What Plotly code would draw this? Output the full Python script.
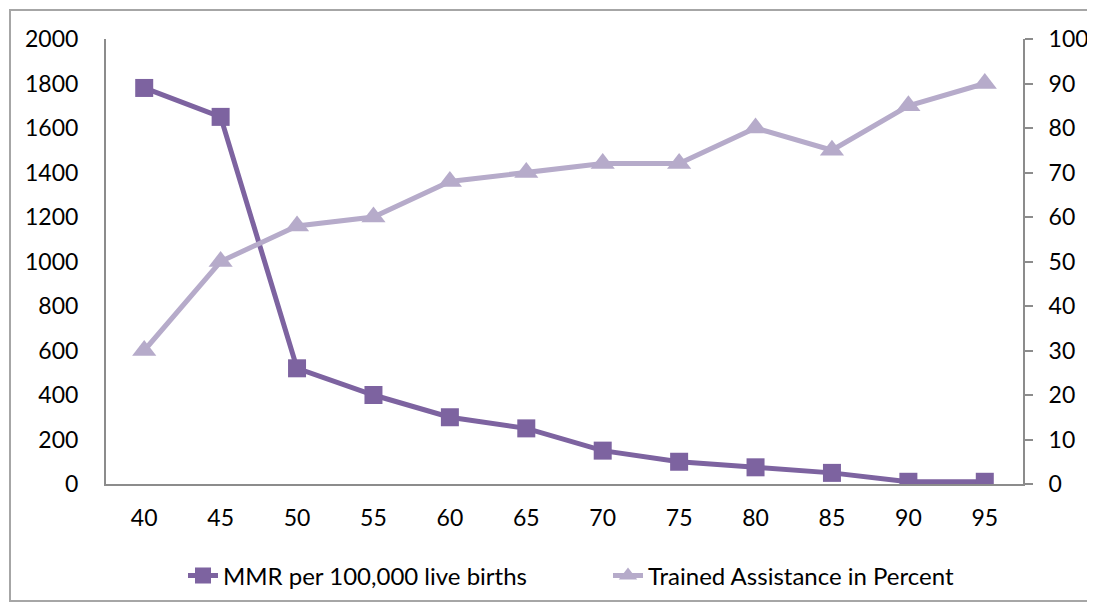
import plotly.graph_objects as go

years = ["40", "45", "50", "55", "60", "65", "70", "75", "80", "85", "90", "95"]
mmr = [1780, 1650, 520, 400, 300, 250, 150, 100, 75, 50, 10, 10]
trained = [30, 50, 58, 60, 68, 70, 72, 72, 80, 75, 85, 90]

FONT = "Lato"
AX = "#8c8c8c"
OFF = 8  # default page body margin

fig = go.Figure()
fig.add_trace(go.Scatter(
    x=years, y=mmr, name="MMR per 100,000 live births", mode="lines+markers",
    line=dict(color="#7d63a0", width=5),
    marker=dict(symbol="square", size=18, color="#7d63a0"),
    yaxis="y"))
fig.add_trace(go.Scatter(
    x=years, y=trained, name="Trained Assistance in Percent", mode="lines+markers",
    line=dict(color="#b6abca", width=5),
    marker=dict(symbol="triangle-up", size=21, color="#b6abca"),
    yaxis="y2"))

W, H = 1095 - OFF, 610 - 2 * OFF
L = 106 - OFF
R = W - (1023 - OFF)
T = 39 - OFF
B = H - (484 - OFF)
pw, ph = W - L - R, H - T - B

def px(x):
    return (x - OFF - L) / pw

def py(y):
    return (H - B - (y - OFF)) / ph

fig.update_layout(
    width=W, height=H, autosize=False,
    margin=dict(l=L, r=R, t=T, b=B, pad=0, autoexpand=False),
    paper_bgcolor="white", plot_bgcolor="white",
    font=dict(family=FONT, size=23, color="black"),
    showlegend=True,
    legend=dict(orientation="h", x=px(183), xanchor="left", y=py(576), yanchor="middle",
                font=dict(size=24), entrywidth=380, tracegroupgap=0),
    xaxis=dict(type="category", range=[-0.5, 11.5], showgrid=False, zeroline=False,
               showline=True, linecolor=AX, linewidth=2, ticks="",
               ticklabelstandoff=12),
    yaxis=dict(range=[0, 2000], dtick=200, showgrid=False, zeroline=False,
               showline=True, linecolor=AX, linewidth=2, ticks="",
               ticklabelstandoff=21),
    yaxis2=dict(range=[0, 100], dtick=10, overlaying="y", side="right",
                showgrid=False, zeroline=False, showline=True, linecolor=AX,
                linewidth=2, ticks="outside", ticklen=8, tickcolor=AX, tickwidth=2,
                ticklabelstandoff=11),
    shapes=[dict(type="rect", xref="paper", yref="paper",
                 x0=px(10), x1=px(1093), y0=py(601), y1=py(10),
                 line=dict(color="#a6a6a6", width=2), layer="below")],
)

fig.write_html("out.html", config={"responsive": False})
